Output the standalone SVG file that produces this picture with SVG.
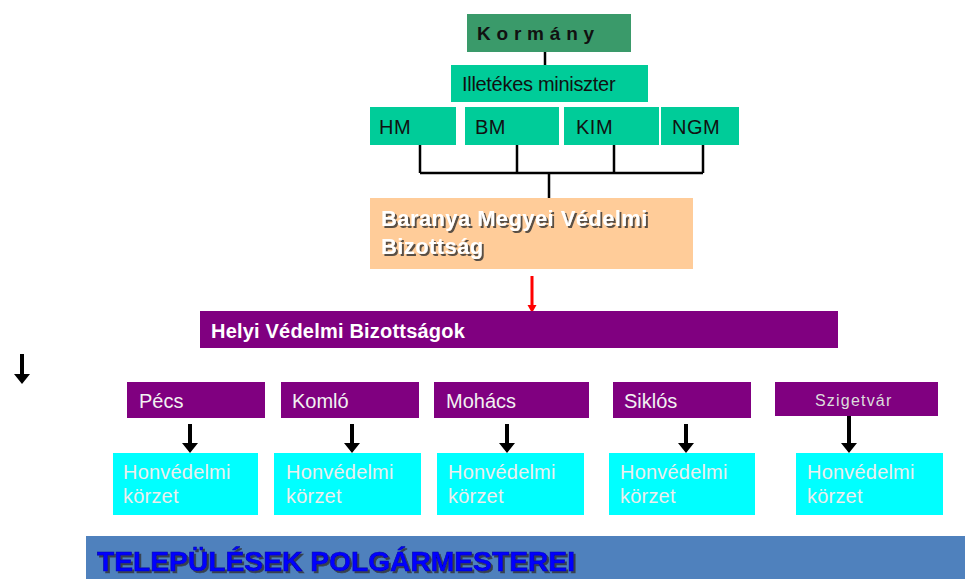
<svg xmlns="http://www.w3.org/2000/svg" width="965" height="579" viewBox="0 0 965 579">
<defs>
<style>
.t{font-family:"Liberation Sans",Arial,sans-serif;font-size:20px}
.g{fill:#00CC99}
.p{fill:#800080}
.c{fill:#00FFFF}
.ln{stroke:#000;stroke-width:2.5;fill:none}
.hv{fill:#EEEEEE;font-family:"Liberation Sans",Arial,sans-serif;font-size:20px;letter-spacing:0.2px}
.wp{fill:#F2F2F2;font-family:"Liberation Sans",Arial,sans-serif;font-size:20px}
</style>
<filter id="sh" x="-5%" y="-20%" width="110%" height="140%">
<feDropShadow dx="2" dy="2" stdDeviation="0.6" flood-color="#333" flood-opacity="0.8"/>
</filter>
</defs>
<rect width="965" height="579" fill="#fff"/>
<g id="connectors">
<path class="ln" d="M545,52 V65"/>
<path class="ln" d="M420,145 V173 M517,145 V173 M614,145 V173 M703,145 V173 M420,173 H703 M549,173 V198"/>
<path d="M530.5,276 H533.5 V305 H536.5 L532,313 L527.5,305 H530.5 Z" fill="#FF0000"/>
<path d="M20,354 H24 V374 H30 L22,384 L14,374 H20 Z" fill="#000"/>
<path d="M188,424 H192 V443 H198 L190,453 L182,443 H188 Z" fill="#000"/>
<path d="M350,424 H354 V443 H360 L352,453 L344,443 H350 Z" fill="#000"/>
<path d="M505,424 H509 V443 H515 L507,453 L499,443 H505 Z" fill="#000"/>
<path d="M684,424 H688 V443 H694 L686,453 L678,443 H684 Z" fill="#000"/>
<path d="M847,416 H851 V443 H857 L849,453 L841,443 H847 Z" fill="#000"/>
</g>
<g id="kormany">
<rect x="467" y="14" width="164" height="38" fill="#3A9A6A"/>
<text x="477" y="40" font-family="Liberation Sans,Arial,sans-serif" font-size="19" font-weight="bold" letter-spacing="5.8" fill="#111">Kormány</text>
</g>
<g id="miniszter">
<rect class="g" x="451" y="65" width="197" height="37"/>
<text x="462" y="91" class="t" letter-spacing="-0.3" fill="#111">Illetékes miniszter</text>
</g>
<g id="hm">
<rect class="g" x="370" y="107" width="86" height="38"/>
<text x="379" y="134" class="t" letter-spacing="0.5" fill="#111">HM</text>
</g>
<g id="bm">
<rect class="g" x="465" y="107" width="94" height="38"/>
<text x="475" y="134" class="t" letter-spacing="0.5" fill="#111">BM</text>
</g>
<g id="kim">
<rect class="g" x="564" y="107" width="95" height="38"/>
<text x="576" y="134" class="t" letter-spacing="0.5" fill="#111">KIM</text>
</g>
<g id="ngm">
<rect class="g" x="661" y="107" width="78" height="38"/>
<text x="672" y="134" class="t" letter-spacing="0.5" fill="#111">NGM</text>
</g>
<g id="baranya">
<rect x="370" y="198" width="323" height="71" fill="#FFCC99"/>
<g filter="url(#sh)" fill="#fff" font-family="Liberation Sans,Arial,sans-serif" font-size="22" font-weight="bold" letter-spacing="0.4">
<text x="381" y="226">Baranya Megyei Védelmi</text>
<text x="381" y="254">Bizottság</text>
</g>
</g>
<g id="helyi">
<rect class="p" x="200" y="311" width="638" height="37"/>
<text x="211" y="338" font-family="Liberation Sans,Arial,sans-serif" font-size="20" font-weight="bold" fill="#fff" letter-spacing="0.2">Helyi Védelmi Bizottságok</text>
</g>
<g id="pecs">
<rect class="p" x="127" y="382" width="138" height="36"/>
<text x="139" y="408" class="wp">Pécs</text>
</g>
<g id="komlo">
<rect class="p" x="281" y="382" width="138" height="36"/>
<text x="292" y="408" class="wp">Komló</text>
</g>
<g id="mohacs">
<rect class="p" x="434" y="382" width="155" height="36"/>
<text x="446" y="408" class="wp">Mohács</text>
</g>
<g id="siklos">
<rect class="p" x="613" y="382" width="138" height="36"/>
<text x="624" y="408" class="wp">Siklós</text>
</g>
<g id="szigetvar">
<rect class="p" x="775" y="382" width="163" height="34"/>
<text x="815" y="406" font-family="Liberation Sans,Arial,sans-serif" font-size="16" letter-spacing="1.2" fill="#DDDDDD">Szigetvár</text>
</g>
<g id="hk1">
<rect class="c" x="113" y="453" width="145" height="62"/>
<text x="123" y="479" class="hv">Honvédelmi</text>
<text x="123" y="503" class="hv">körzet</text>
</g>
<g id="hk2">
<rect class="c" x="274" y="453" width="147" height="62"/>
<text x="286" y="479" class="hv">Honvédelmi</text>
<text x="286" y="503" class="hv">körzet</text>
</g>
<g id="hk3">
<rect class="c" x="437" y="453" width="147" height="62"/>
<text x="448" y="479" class="hv">Honvédelmi</text>
<text x="448" y="503" class="hv">körzet</text>
</g>
<g id="hk4">
<rect class="c" x="609" y="453" width="146" height="62"/>
<text x="620" y="479" class="hv">Honvédelmi</text>
<text x="620" y="503" class="hv">körzet</text>
</g>
<g id="hk5">
<rect class="c" x="796" y="453" width="147" height="62"/>
<text x="807" y="479" class="hv">Honvédelmi</text>
<text x="807" y="503" class="hv">körzet</text>
</g>
<g id="polgarmesterek">
<rect x="86" y="536" width="879" height="43" fill="#4F81BD"/>
<text x="97" y="571" font-family="Liberation Sans,Arial,sans-serif" font-size="28" font-weight="bold" fill="#0000FF" stroke="#0000AA" stroke-width="0.6" textLength="478" lengthAdjust="spacingAndGlyphs" filter="url(#sh)">TELEPÜLÉSEK POLGÁRMESTEREI</text>
</g>
</svg>
